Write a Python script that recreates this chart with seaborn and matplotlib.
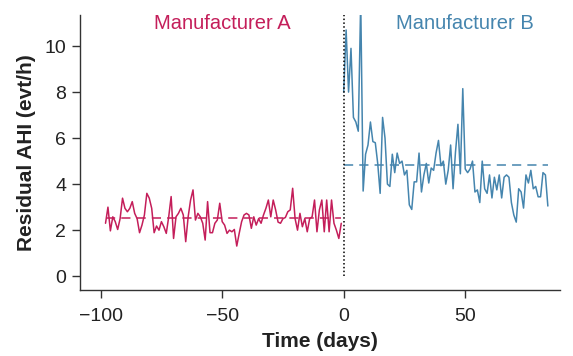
import numpy as np
import pandas as pd
import matplotlib
matplotlib.use("Agg")
import matplotlib.pyplot as plt
import seaborn as sns

# ---- data ----
days_a = list(range(-98, 0))
ahi_a = [2.3, 3.0, 1.97, 2.58, 2.37, 2.03, 2.5, 3.39, 2.95, 2.8,
         2.95, 3.24, 2.73, 2.5, 1.89, 2.22, 2.66, 3.6, 3.39, 2.95,
         1.89, 2.18, 2.0,
         2.37, 2.15, 1.86, 2.58, 3.46, 1.64, 2.58, 2.73, 2.95, 2.66,
         1.5, 2.58, 3.31, 3.75, 2.44, 2.73, 2.58, 2.3, 1.57, 3.24,
         1.89, 1.89, 2.3, 2.44, 3.17,
         2.37, 2.22, 1.86, 2.0, 1.93, 2.03, 1.31, 1.86, 2.37, 2.66,
         2.73, 2.66, 2.08, 2.58, 2.22, 2.5, 2.3, 2.66, 2.95, 3.31,
         2.58, 3.31, 2.88,
         2.35, 2.3, 2.5, 2.55, 2.8, 2.88, 3.82, 2.5, 2.0, 2.73,
         2.15, 2.5, 1.93, 2.5, 2.58, 3.31, 1.93, 2.88, 3.31, 1.93,
         3.31, 1.93, 3.31, 2.3, 2.0, 1.64, 2.3]

days_b = list(range(0, 85))
ahi_b = [8.0, 10.7, 8.0, 9.9, 6.9, 6.7, 6.3, 12.0, 3.7, 5.3,
         5.7, 6.7, 5.85, 5.8, 4.9, 3.6, 6.9, 6.0, 4.0, 3.9,
         5.3, 4.5, 5.35, 4.9, 5.0, 4.4, 4.6, 3.1, 2.9, 4.1,
         4.1, 5.35, 3.66, 4.4, 4.9, 4.05, 4.7, 4.6, 5.35, 5.9,
         4.8, 5.0, 4.0, 4.6, 5.7, 3.8, 5.4, 6.6, 4.45, 8.15,
         4.66, 4.5, 4.66, 5.0, 3.66, 3.75, 3.2, 5.0, 3.8, 3.6,
         4.4, 3.4, 4.3, 3.75, 4.4, 3.4, 4.3, 4.4, 4.3, 3.2,
         2.66, 2.35, 3.8, 3.66, 2.96, 4.4, 4.05, 4.6, 3.8, 3.9,
         3.45, 3.45, 4.5, 4.4, 3.05]

mean_a = 2.55
mean_b = 4.84
group_labels = ["Manufacturer A", "Manufacturer B"]
xticks = [-100, -50, 0, 50]
yticks = [0, 2, 4, 6, 8, 10]

col_a = "#C41E5A"
col_b = "#4585AE"

df = pd.DataFrame({
    "day": days_a + days_b,
    "ahi": ahi_a + ahi_b,
    "group": [group_labels[0]] * len(days_a) + [group_labels[1]] * len(days_b),
})

sns.set_style("ticks")
plt.rcParams["font.family"] = ["Liberation Sans", "DejaVu Sans"]

fig = plt.figure(figsize=(5.73, 3.56), dpi=100)
ax = fig.add_axes([80 / 573, 1 - 290 / 356, (560 - 80) / 573, (290 - 15) / 356])

sns.lineplot(data=df, x="day", y="ahi", hue="group",
             palette={group_labels[0]: col_a, group_labels[1]: col_b},
             linewidth=1.1, legend=False, ax=ax, estimator=None)

ax.hlines(mean_a, days_a[0], days_a[-1], colors=col_a, linestyles=(0, (6, 4)), linewidth=1.1)
ax.hlines(mean_b, days_b[0], days_b[-1], colors=col_b, linestyles=(0, (6, 4)), linewidth=1.1)

ax.set_xlim(-108.5, 89)
ax.set_ylim(-0.6, 11.35)
ax.vlines(0, 0, 11.35, colors="black", linestyles=(0, (1, 1.5)), linewidth=1.1)

ax.set_xticks(xticks)
ax.set_xticklabels(["\u2212100", "\u221250", "0", "50"])
ax.set_yticks(yticks)
ax.tick_params(axis="both", labelsize=14, length=6, width=1, pad=4,
               colors="#333333", labelcolor="#222222")
ax.tick_params(axis="x", pad=7)

ax.text(-50, 11.0, group_labels[0], color=col_a, fontsize=14.5, ha="center", va="center")
ax.text(50, 11.0, group_labels[1], color=col_b, fontsize=14.5, ha="center", va="center")

ax.set_xlabel("Time (days)", fontsize=15, fontweight="bold", color="#222222", labelpad=5)
ax.set_ylabel("Residual AHI (evt/h)", fontsize=15, fontweight="bold", color="#222222", labelpad=6)

sns.despine(ax=ax)
ax.spines["left"].set_linewidth(1)
ax.spines["bottom"].set_linewidth(1)
ax.spines["left"].set_color("#333333")
ax.spines["bottom"].set_color("#333333")

fig.savefig("out.png", dpi=100)
